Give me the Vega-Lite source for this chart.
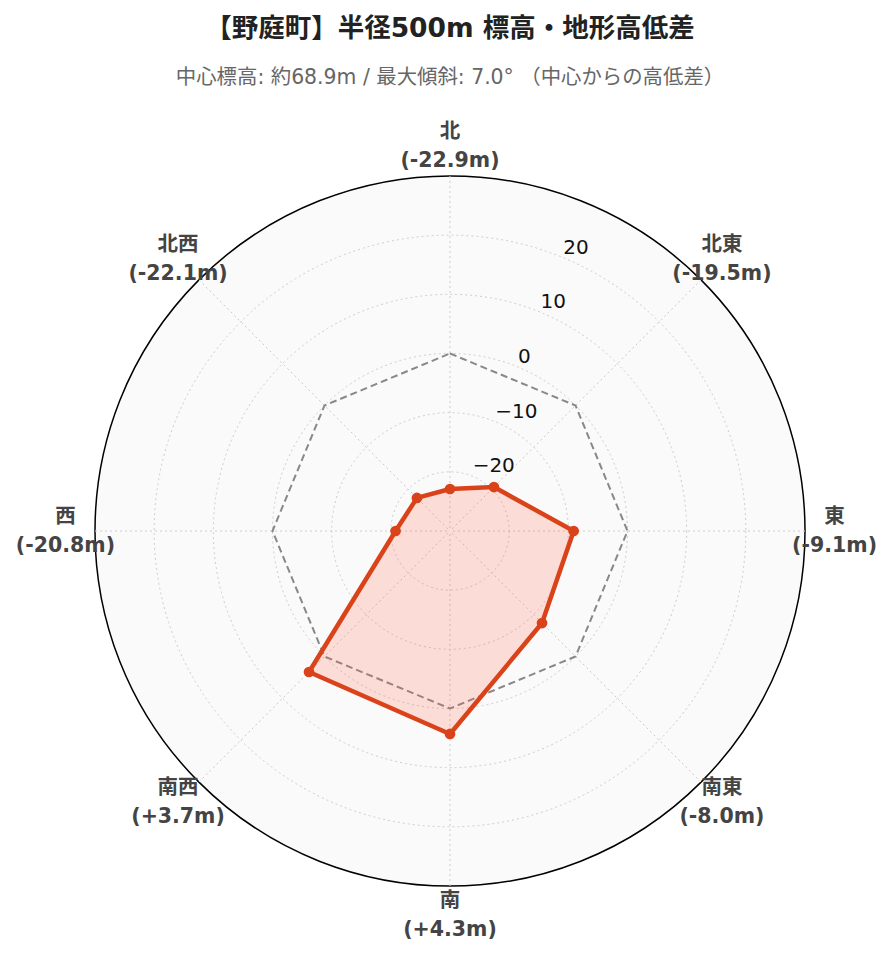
{
  "$schema": "https://vega.github.io/schema/vega-lite/v6.json",
  "width": 710,
  "height": 710,
  "autosize": {"type": "none"},
  "padding": {"left": 95, "top": 176, "right": 87, "bottom": 76},
  "background": "white",
  "config": {"view": {"stroke": null}, "font": "DejaVu Sans, Noto Sans CJK JP"},
  "title": {
    "text": "【野庭町】半径500m 標高・地形高低差",
    "subtitle": "中心標高: 約68.9m / 最大傾斜: 7.0° （中心からの高低差）",
    "anchor": "middle",
    "frame": "group",
    "font": "DejaVu Sans, Noto Sans CJK JP",
    "fontSize": 26.5,
    "fontWeight": "bold",
    "color": "#222222",
    "subtitleFont": "DejaVu Sans, Noto Sans CJK JP",
    "subtitleFontSize": 20.4,
    "subtitleColor": "#666666",
    "subtitlePadding": 25,
    "offset": 34
  },
  "datasets": {
    "dirs": [
      {"dir": "北", "i": 0, "value": -22.9},
      {"dir": "北東", "i": 1, "value": -19.5},
      {"dir": "東", "i": 2, "value": -9.1},
      {"dir": "南東", "i": 3, "value": -8.0},
      {"dir": "南", "i": 4, "value": 4.3},
      {"dir": "南西", "i": 5, "value": 3.7},
      {"dir": "西", "i": 6, "value": -20.8},
      {"dir": "北西", "i": 7, "value": -22.1}
    ],
    "rings": [{"v": -20}, {"v": -10}, {"v": 0}, {"v": 10}, {"v": 20}],
    "outer": [{"v": 30}]
  },
  "layer": [
    {
      "data": {"name": "outer"},
      "transform": [{"calculate": "datum.v + 30", "as": "rr"}],
      "mark": {"type": "point", "shape": "circle", "filled": true, "fill": "#fafafa", "stroke": "#000000", "strokeWidth": 1.5, "opacity": 1, "fillOpacity": 1, "strokeOpacity": 1},
      "encoding": {
        "x": {"datum": 0, "type": "quantitative", "scale": {"domain": [-60, 60]}, "axis": null},
        "y": {"datum": 0, "type": "quantitative", "scale": {"domain": [-60, 60]}, "axis": null},
        "size": {"field": "rr", "type": "quantitative", "scale": {"type": "pow", "exponent": 2, "domain": [0, 60], "range": [0, 504100]}, "legend": null}
      }
    },
    {
      "data": {"name": "rings"},
      "transform": [{"calculate": "datum.v + 30", "as": "rr"}],
      "mark": {"type": "point", "shape": "circle", "filled": false, "stroke": "#cccccc", "strokeWidth": 1, "strokeDash": [2, 3], "opacity": 1},
      "encoding": {
        "x": {"datum": 0, "type": "quantitative"},
        "y": {"datum": 0, "type": "quantitative"},
        "size": {"field": "rr", "type": "quantitative"}
      }
    },
    {
      "data": {"name": "dirs"},
      "transform": [
        {"calculate": "datum.i * PI / 4", "as": "a"},
        {"calculate": "60 * sin(datum.a)", "as": "ex"},
        {"calculate": "60 * cos(datum.a)", "as": "ey"}
      ],
      "mark": {"type": "rule", "stroke": "#cccccc", "strokeWidth": 1, "strokeDash": [2, 3]},
      "encoding": {
        "x": {"field": "ex", "type": "quantitative"},
        "y": {"field": "ey", "type": "quantitative"},
        "x2": {"datum": 0},
        "y2": {"datum": 0}
      }
    },
    {
      "data": {"name": "dirs"},
      "transform": [
        {"calculate": "datum.i * PI / 4", "as": "a"},
        {"calculate": "30 * sin(datum.a)", "as": "zx"},
        {"calculate": "30 * cos(datum.a)", "as": "zy"}
      ],
      "mark": {"type": "line", "interpolate": "linear-closed", "stroke": "#888888", "strokeWidth": 2, "strokeDash": [7, 4]},
      "encoding": {
        "x": {"field": "zx", "type": "quantitative"},
        "y": {"field": "zy", "type": "quantitative"},
        "order": {"field": "i", "type": "quantitative"}
      }
    },
    {
      "data": {"name": "dirs"},
      "transform": [
        {"calculate": "datum.i * PI / 4", "as": "a"},
        {"calculate": "(datum.value + 30) * sin(datum.a)", "as": "px"},
        {"calculate": "(datum.value + 30) * cos(datum.a)", "as": "py"}
      ],
      "mark": {"type": "line", "interpolate": "linear-closed", "stroke": "#da431a", "strokeWidth": 4.5, "fill": "#ff6347", "fillOpacity": 0.2, "strokeJoin": "round"},
      "encoding": {
        "x": {"field": "px", "type": "quantitative"},
        "y": {"field": "py", "type": "quantitative"},
        "order": {"field": "i", "type": "quantitative"}
      }
    },
    {
      "data": {"name": "dirs"},
      "transform": [
        {"calculate": "datum.i * PI / 4", "as": "a"},
        {"calculate": "(datum.value + 30) * sin(datum.a)", "as": "px"},
        {"calculate": "(datum.value + 30) * cos(datum.a)", "as": "py"}
      ],
      "mark": {"type": "circle", "size": 115, "color": "#da431a", "opacity": 1},
      "encoding": {
        "x": {"field": "px", "type": "quantitative"},
        "y": {"field": "py", "type": "quantitative"}
      }
    },
    {
      "data": {"name": "rings"},
      "transform": [
        {"calculate": "(datum.v + 30) * sin(PI / 8)", "as": "tx"},
        {"calculate": "(datum.v + 30) * cos(PI / 8)", "as": "ty"},
        {"calculate": "format(datum.v, 'd')", "as": "lab"}
      ],
      "mark": {"type": "text", "align": "left", "baseline": "bottom", "fontSize": 20, "color": "#111111", "font": "DejaVu Sans"},
      "encoding": {
        "x": {"field": "tx", "type": "quantitative"},
        "y": {"field": "ty", "type": "quantitative"},
        "text": {"field": "lab"}
      }
    },
    {
      "data": {"name": "dirs"},
      "transform": [
        {"calculate": "datum.i * PI / 4", "as": "a"},
        {"calculate": "65 * sin(datum.a)", "as": "lx"},
        {"calculate": "65 * cos(datum.a)", "as": "ly"},
        {"calculate": "datum.dir + '\\n(' + (datum.value > 0 ? '+' : '') + replace(format(datum.value, '.1f'), '\u2212', '-') + 'm)'", "as": "label"}
      ],
      "mark": {"type": "text", "align": "center", "baseline": "middle", "dy": -14.5, "fontSize": 20.5, "fontWeight": "bold", "color": "#444444", "lineBreak": "\n", "lineHeight": 29},
      "encoding": {
        "x": {"field": "lx", "type": "quantitative"},
        "y": {"field": "ly", "type": "quantitative"},
        "text": {"field": "label"}
      }
    }
  ]
}
